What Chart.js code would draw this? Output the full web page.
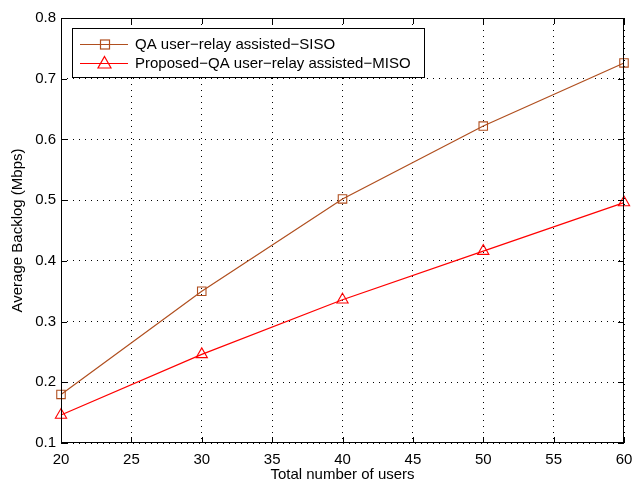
<!DOCTYPE html>
<html>
<head>
<meta charset="utf-8">
<script src="https://cdn.jsdelivr.net/npm/chart.js@4"></script>
<style>
  html, body { margin: 0; padding: 0; background: #fff; }
  #wrap { width: 633px; height: 482px; position: relative; }
</style>
</head>
<body>
<div id="wrap"><canvas id="myChart"></canvas></div>
<script>
  // Data
  var users = [20, 30, 40, 50, 60];
  var sisoBacklog = [0.18, 0.35, 0.502, 0.622, 0.726];
  var misoBacklog = [0.146, 0.246, 0.336, 0.416, 0.496];
  var seriesNames = ['QA user\u2212relay assisted\u2212SISO', 'Proposed\u2212QA user\u2212relay assisted\u2212MISO'];
  var seriesColors = ['#b04f1f', '#ff0000'];
  var seriesMarkers = ['rect', 'triangle'];

  var FONT = '"Liberation Sans", Arial, sans-serif';
  var FSIZE = 15;

  function toPoints(xs, ys) {
    return xs.map(function (x, i) { return { x: x, y: ys[i] }; });
  }

  // box, inward ticks and legend in MATLAB style
  var matlabBox = {
    id: 'matlabBox',
    afterDraw: function (chart) {
      var c = chart.ctx, a = chart.chartArea;
      var xs = chart.scales.x, ys = chart.scales.y;
      c.save();
      c.strokeStyle = '#000';
      c.lineWidth = 1;
      c.setLineDash([]);
      c.strokeRect(a.left + 0.5, a.top + 0.5, a.right - a.left - 1, a.bottom - a.top - 1);
      c.beginPath();
      xs.ticks.forEach(function (t) {
        var px = Math.round(xs.getPixelForValue(t.value)) + 0.5;
        c.moveTo(px, a.bottom); c.lineTo(px, a.bottom - 6);
        c.moveTo(px, a.top); c.lineTo(px, a.top + 6);
      });
      ys.ticks.forEach(function (t) {
        var py = Math.round(ys.getPixelForValue(t.value)) + 0.5;
        c.moveTo(a.left, py); c.lineTo(a.left + 6, py);
        c.moveTo(a.right, py); c.lineTo(a.right - 6, py);
      });
      c.stroke();

      // legend
      var lx = 72, ly = 28, lw = 352, lh = 49;
      c.fillStyle = '#fff';
      c.fillRect(lx, ly, lw, lh);
      c.strokeRect(lx + 0.5, ly + 0.5, lw, lh);
      c.font = FSIZE + 'px ' + FONT;
      c.textBaseline = 'middle';
      c.lineWidth = 1.2;
      var rows = [44, 63];
      rows.forEach(function (ry, i) {
        c.strokeStyle = seriesColors[i];
        c.beginPath();
        c.moveTo(80, ry + 0.5); c.lineTo(128, ry + 0.5);
        c.stroke();
        if (seriesMarkers[i] === 'rect') {
          c.strokeRect(100.5, ry - 4, 9, 9);
        } else {
          c.beginPath();
          c.moveTo(104.5, ry - 6.5);
          c.lineTo(111, ry + 5);
          c.lineTo(98, ry + 5);
          c.closePath();
          c.stroke();
        }
        c.fillStyle = '#000';
        c.fillText(seriesNames[i], 135, ry + 1);
      });
      c.restore();
    }
  };

  var ctx = document.getElementById('myChart').getContext('2d');

  var myChart = new Chart(ctx, {
    type: 'line',
    data: {
      datasets: [{
        label: seriesNames[0],
        data: toPoints(users, sisoBacklog),
        borderColor: seriesColors[0],
        backgroundColor: 'rgba(0,0,0,0)',
        pointStyle: seriesMarkers[0],
        pointRadius: 6,
        pointBorderWidth: 1.1,
        borderWidth: 1.2,
        tension: 0,
        clip: false
      }, {
        label: seriesNames[1],
        data: toPoints(users, misoBacklog),
        borderColor: seriesColors[1],
        backgroundColor: 'rgba(0,0,0,0)',
        pointStyle: seriesMarkers[1],
        pointRadius: 6.5,
        pointBorderWidth: 1.1,
        borderWidth: 1.2,
        tension: 0,
        clip: false
      }]
    },
    options: {
      responsive: true,
      maintainAspectRatio: false,
      animation: false,
      layout: { padding: { top: 18, right: 9, left: 0, bottom: 0 } },
      plugins: {
        legend: { display: false },
        tooltip: { enabled: false }
      },
      scales: {
        x: {
          type: 'linear',
          min: 20, max: 60,
          afterFit: function (s) { s.height = 39; s.paddingLeft = 0; s.paddingRight = 0; },
          ticks: { stepSize: 5, color: '#000', padding: 8, font: { family: FONT, size: FSIZE } },
          grid: { color: '#000', drawTicks: false, tickLength: 0 },
          border: { display: false, dash: [1, 5] },
          title: { display: true, text: 'Total number of users', color: '#000', padding: { top: 0, bottom: 0 },
                   font: { family: FONT, size: FSIZE, lineHeight: 1 } }
        },
        y: {
          min: 0.1, max: 0.8,
          afterFit: function (s) { s.width = 61; s.paddingTop = 0; s.paddingBottom = 0; },
          ticks: { stepSize: 0.1, color: '#000', padding: 5, font: { family: FONT, size: FSIZE },
                   callback: function (v) { return Math.round(v * 10) / 10; } },
          grid: { color: '#000', drawTicks: false, tickLength: 0 },
          border: { display: false, dash: [1, 5] },
          title: { display: true, text: 'Average Backlog (Mbps)', color: '#000', padding: { top: 10, bottom: 0 },
                   font: { family: FONT, size: FSIZE, lineHeight: 1 } }
        }
      }
    },
    plugins: [matlabBox]
  });
</script>
</body>
</html>
